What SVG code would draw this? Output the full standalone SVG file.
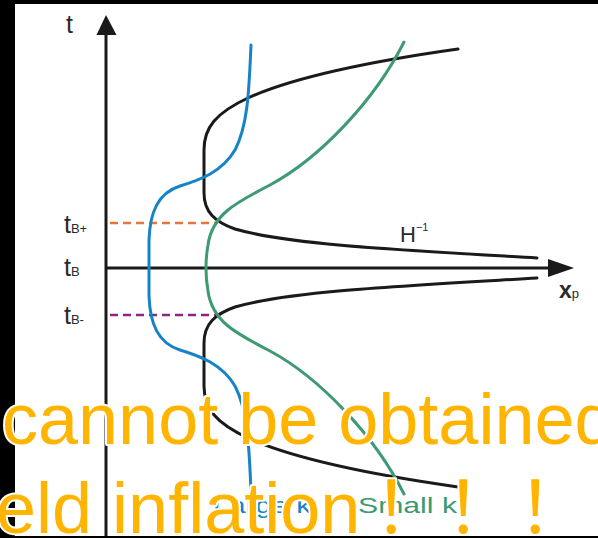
<svg xmlns="http://www.w3.org/2000/svg" width="598" height="538" viewBox="0 0 598 538">
<defs>
<style>
.lbl{font-family:"Liberation Sans",Arial,sans-serif;fill:#2a2a2a}
.crv{fill:none;stroke-width:3;stroke-linecap:round}
.ax{stroke:#1a1a1a;stroke-width:3;fill:none}
.dash{fill:none;stroke-width:2.5;stroke-dasharray:8 5}
.big{font-family:"Liberation Sans",Arial,"Noto Sans CJK SC",sans-serif;font-size:72px;fill:#FFB400;stroke:#fff;stroke-width:4;paint-order:stroke;stroke-linejoin:round}
</style>
</defs>
<rect x="0" y="0" width="598" height="538" fill="#fff"/>
<rect x="0" y="0" width="15" height="538" fill="#000"/>
<rect x="0" y="0" width="598" height="4" fill="#000"/>
<rect x="0" y="536" width="598" height="2" fill="#000"/>

<g id="axes">
<line class="ax" x1="106" y1="32" x2="106" y2="536"/>
<polygon points="106,15 96.5,35 116.5,35" fill="#1a1a1a"/>
<line class="ax" x1="106" y1="268" x2="552" y2="268"/>
<polygon points="574,268 548,259 548,277" fill="#1a1a1a"/>
</g>

<g id="labels">
<text class="lbl" x="66" y="33" font-size="25">t</text>
<text class="lbl" x="64" y="233" font-size="25">t<tspan font-size="13">B+</tspan></text>
<text class="lbl" x="64" y="276" font-size="25">t<tspan font-size="13">B</tspan></text>
<text class="lbl" x="64" y="324" font-size="25">t<tspan font-size="13">B-</tspan></text>
<text class="lbl" x="400" y="242" font-size="22">H<tspan font-size="11" dy="-11">−1</tspan></text>
<text class="lbl" x="559" y="298" font-size="23" font-weight="bold">x<tspan font-size="13" font-weight="normal">p</tspan></text>
</g>

<g id="connectors">
<line class="dash" x1="110" y1="223" x2="218" y2="223" stroke="#E8763A"/>
<line class="dash" x1="110" y1="315" x2="218" y2="315" stroke="#8E2485"/>
</g>

<g id="horizon">
<path class="crv" stroke="#1a1a1a" d="M458,49 C380,60 300,75 250,97 C215,113 204,128 204,150 L204,193 C204,212 215,222 235,229 C290,245 400,250 537,258"/>
<path class="crv" stroke="#1a1a1a" d="M458,487 C380,476 300,461 250,439 C215,423 204,408 204,386 L204,343 C204,324 215,314 235,307 C290,291 400,286 537,278"/>
</g>

<g id="large-k">
<path class="crv" stroke="#1683C6" d="M251,45 C249,90 248,125 235,150 C222,172 200,180 180,186 C158,193 150,212 149,240 L149,296 C150,324 158,343 180,350 C200,356 222,364 235,386 C248,411 249,446 251,491"/>
<text x="213" y="513" font-family="Liberation Sans,Arial,sans-serif" font-size="22" fill="#1683C6" textLength="98" lengthAdjust="spacingAndGlyphs">Large k</text>
</g>

<g id="small-k">
<path class="crv" stroke="#3E9A72" d="M404,42 C375,100 320,158 270,185 C235,203 212,215 208,245 C205,262 205,274 208,291 C212,321 235,333 270,351 C320,378 375,436 404,494"/>
<text x="358" y="513" font-family="Liberation Sans,Arial,sans-serif" font-size="22" fill="#3E9A72" textLength="99" lengthAdjust="spacingAndGlyphs">Small k</text>
</g>

<g id="overlay">
<text class="big" x="2" y="444">cannot be obtained</text>
<text class="big" x="-4" y="533">eld inflation<tspan dx="13">！！！</tspan></text>
</g>
</svg>
